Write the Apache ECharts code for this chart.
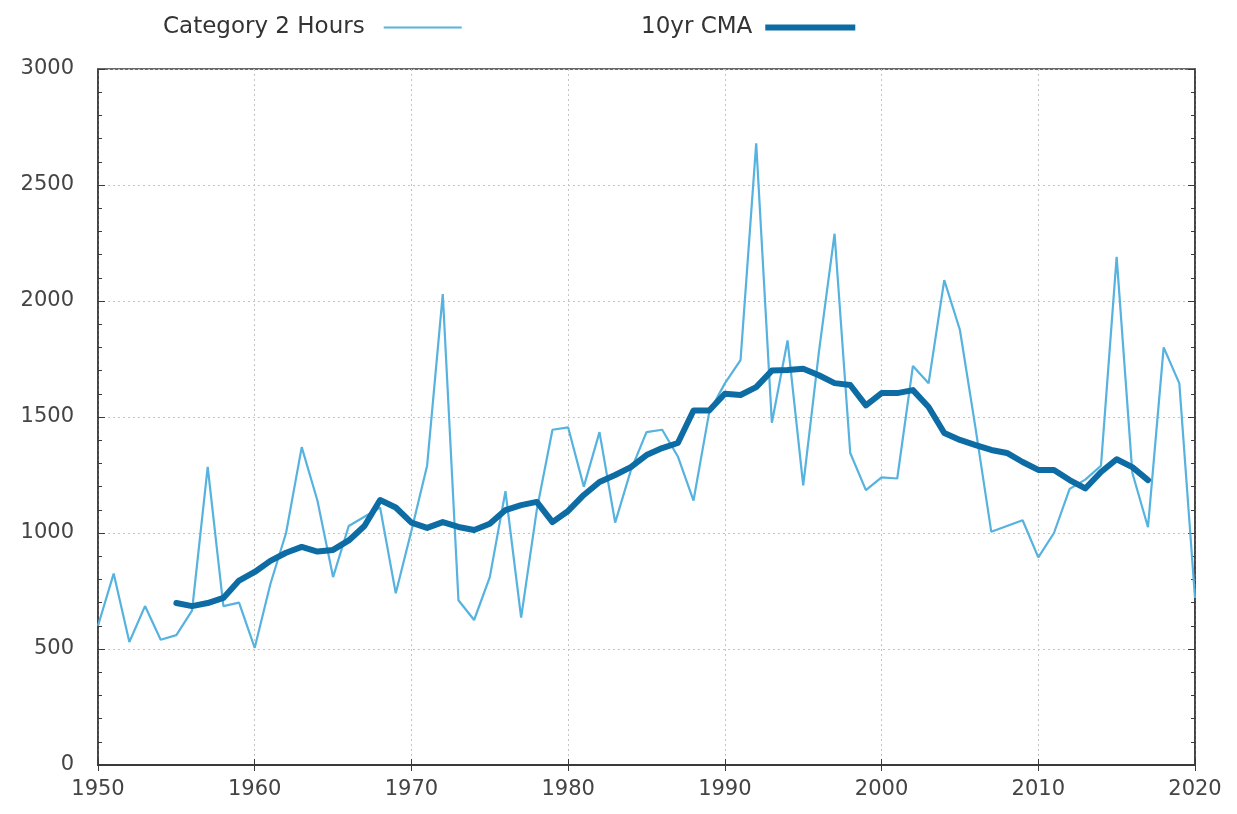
<!DOCTYPE html>
<html>
<head>
<meta charset="utf-8">
<script src="https://cdn.jsdelivr.net/npm/echarts@6/dist/echarts.min.js"></script>
<style>
html,body{margin:0;padding:0;background:#fff;}
#chart{width:1237px;height:814px;}
</style>
</head>
<body>
<div id="chart"></div>
<script>
const years = [1950,1951,1952,1953,1954,1955,1956,1957,1958,1959,
  1960,1961,1962,1963,1964,1965,1966,1967,1968,1969,
  1970,1971,1972,1973,1974,1975,1976,1977,1978,1979,
  1980,1981,1982,1983,1984,1985,1986,1987,1988,1989,
  1990,1991,1992,1993,1994,1995,1996,1997,1998,1999,
  2000,2001,2002,2003,2004,2005,2006,2007,2008,2009,
  2010,2011,2012,2013,2014,2015,2016,2017,2018,2019,2020];
const cat2Hours = [600,825,530,685,540,560,665,1285,685,700,
  505,780,1000,1370,1140,810,1030,1070,1110,740,
  1010,1290,2030,710,625,810,1180,635,1100,1445,
  1455,1200,1435,1045,1270,1435,1445,1330,1140,1520,
  1645,1745,2680,1475,1830,1205,1780,2290,1345,1185,
  1240,1235,1720,1645,2090,1875,1450,1005,1030,1055,
  895,1000,1190,1230,1290,2190,1260,1025,1800,1645,720];
const cmaYears = [1955,1956,1957,1958,1959,1960,1961,1962,1963,1964,
  1965,1966,1967,1968,1969,1970,1971,1972,1973,1974,
  1975,1976,1977,1978,1979,1980,1981,1982,1983,1984,
  1985,1986,1987,1988,1989,1990,1991,1992,1993,1994,
  1995,1996,1997,1998,1999,2000,2001,2002,2003,2004,
  2005,2006,2007,2008,2009,2010,2011,2012,2013,2014,
  2015,2016,2017];
const cma10yr = [698,685,698,720,795,832,880,915,940,920,
  927,968,1030,1142,1110,1045,1022,1047,1026,1013,
  1040,1099,1120,1134,1047,1095,1164,1220,1250,1284,
  1336,1366,1388,1528,1528,1600,1595,1629,1700,1703,
  1708,1680,1646,1638,1550,1603,1603,1616,1543,1431,
  1401,1379,1358,1345,1306,1272,1272,1228,1192,1263,
  1318,1284,1228];
const xTicks = [1950,1960,1970,1980,1990,2000,2010,2020];
const yTicks = [0,500,1000,1500,2000,2500,3000];

const rawColor = '#56b2de';
const cmaColor = '#0c6ca3';
const FONT = 'DejaVu Sans';
const labelColor = '#444';
const frameColor = '#3a3a3a';
const gridLine = {show:true, lineStyle:{color:'#c4c4c4', width:1, type:[2,3]}};

const chart = echarts.init(document.getElementById('chart'), null, {renderer:'canvas'});
chart.setOption({
  backgroundColor:'#fff',
  animation:false,
  legend:[
    {data:[{name:'Category 2 Hours', icon:'rect'}], left:158, top:11, align:'right',
     itemWidth:78, itemHeight:2, itemStyle:{color:rawColor},
     textStyle:{fontFamily:FONT, fontSize:23, color:'#333', padding:[0,14,0,0]}},
    {data:[{name:'10yr CMA', icon:'rect'}], left:636, top:11, align:'right',
     itemWidth:90, itemHeight:6, itemStyle:{color:cmaColor},
     textStyle:{fontFamily:FONT, fontSize:23, color:'#333', padding:[0,8,0,0]}}
  ],
  grid:{left:98, right:42, top:69, bottom:49, show:true, borderColor:frameColor, borderWidth:1.5, backgroundColor:'transparent'},
  xAxis:[
    {type:'value', min:1950, max:2020, interval:10, position:'bottom',
     axisLine:{show:true, lineStyle:{color:frameColor, width:1.5}},
     axisTick:{show:true, inside:true, length:6, lineStyle:{color:frameColor}},
     axisLabel:{margin:14, fontFamily:FONT, fontSize:21, color:labelColor,
       formatter:v=>xTicks.includes(v)?String(v):''},
     splitLine:gridLine},
    {type:'value', min:1950, max:2020, interval:10, position:'top',
     axisLine:{show:true, lineStyle:{color:frameColor, width:2}},
     axisTick:{show:true, inside:true, length:6, lineStyle:{color:frameColor}},
     axisLabel:{show:false}, splitLine:{show:false}}
  ],
  yAxis:[
    {type:'value', min:0, max:3000, interval:500, position:'left',
     axisLine:{show:true, lineStyle:{color:frameColor, width:1.5}},
     axisTick:{show:true, inside:true, length:7, lineStyle:{color:frameColor}},
     minorTick:{show:true, splitNumber:5, length:4, lineStyle:{color:frameColor}},
     axisLabel:{margin:24, fontFamily:FONT, fontSize:21, color:labelColor,
       formatter:v=>yTicks.includes(v)?String(v):''},
     splitLine:gridLine},
    {type:'value', min:0, max:3000, interval:500, position:'right',
     axisLine:{show:true, lineStyle:{color:frameColor, width:1.5}},
     axisTick:{show:true, inside:true, length:7, lineStyle:{color:frameColor}},
     minorTick:{show:true, splitNumber:5, length:4, lineStyle:{color:frameColor}},
     axisLabel:{show:false}, splitLine:{show:false}}
  ],
  series:[
    {name:'Category 2 Hours', type:'line', xAxisIndex:0, yAxisIndex:0,
     data:years.map((y,i)=>[y,cat2Hours[i]]), showSymbol:false, symbol:'none',
     lineStyle:{color:rawColor, width:2.2}, itemStyle:{color:rawColor}, z:2},
    {name:'10yr CMA', type:'line', xAxisIndex:0, yAxisIndex:0,
     data:cmaYears.map((y,i)=>[y,cma10yr[i]]), showSymbol:false, symbol:'none',
     lineStyle:{color:cmaColor, width:6, join:'round', cap:'round'}, itemStyle:{color:cmaColor}, z:3}
  ]
});
</script>
</body>
</html>
